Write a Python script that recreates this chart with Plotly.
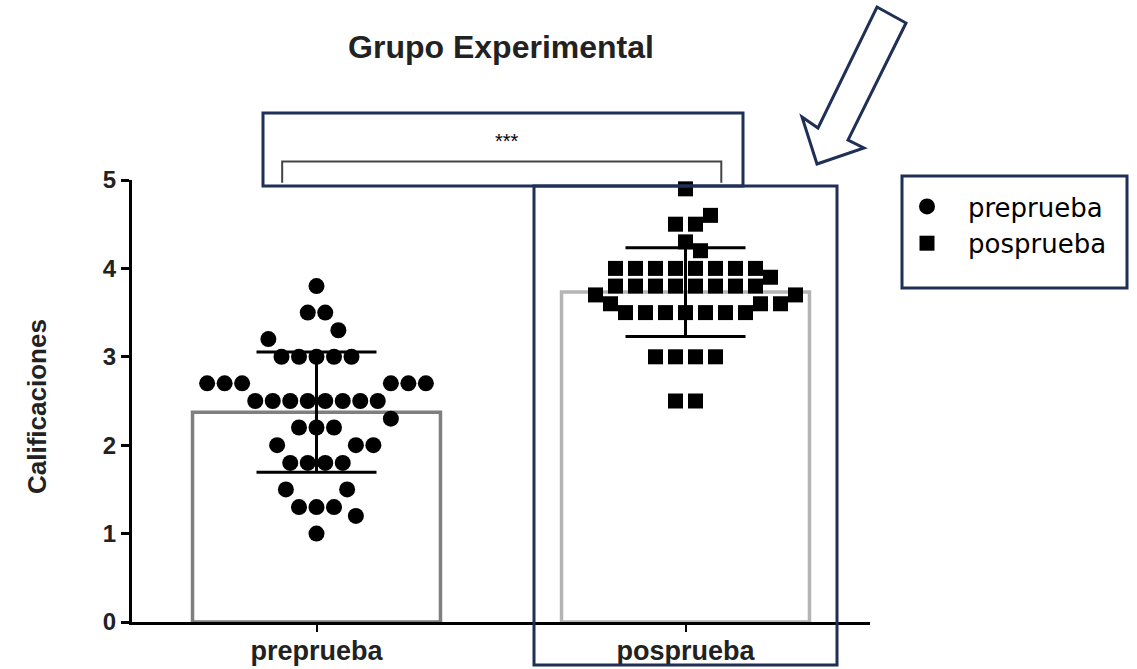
import numpy as np
import plotly.graph_objects as go

# ---------------- data ----------------
categories = ["preprueba", "posprueba"]

preprueba = [3.8, 3.5, 3.5, 3.3, 3.2,
             3.0, 3.0, 3.0, 3.0, 3.0,
             2.7, 2.7, 2.7, 2.7, 2.7, 2.7,
             2.5, 2.5, 2.5, 2.5, 2.5, 2.5, 2.5, 2.5,
             2.3, 2.2, 2.2, 2.2,
             2.0, 2.0, 2.0,
             1.8, 1.8, 1.8, 1.8,
             1.5, 1.5,
             1.3, 1.3, 1.3, 1.2, 1.0]

posprueba = [4.9, 4.6, 4.5, 4.5, 4.3, 4.2,
             4.0, 4.0, 4.0, 4.0, 4.0, 4.0, 4.0, 4.0,
             3.9,
             3.8, 3.8, 3.8, 3.8, 3.8, 3.8, 3.8, 3.8,
             3.7, 3.7, 3.6, 3.6, 3.6,
             3.5, 3.5, 3.5, 3.5, 3.5, 3.5, 3.5,
             3.0, 3.0, 3.0, 3.0,
             2.5, 2.5]

y_ticks = [0, 1, 2, 3, 4, 5]
significance = "***"
title_text = "Grupo Experimental"
y_title = "Calificaciones"

groups = [preprueba, posprueba]
means = [float(np.mean(g)) for g in groups]
sds = [float(np.std(g, ddof=1)) for g in groups]

# ---------------- geometry ----------------
W, H = 1137, 669
X0, X1, Y0, Y1 = 132, 870, 622, 180      # plot area in px
XR = (-0.5, 1.5)
YR = (0, 5)
PX_X = (X1 - X0) / (XR[1] - XR[0])
PX_Y = (Y0 - Y1) / (YR[1] - YR[0])


def pxx(px):
    return (px - X0) / (X1 - X0)


def pxy(py):
    return (Y0 - py) / (Y0 - Y1)


def dx2p(x):
    return (x - XR[0]) / (XR[1] - XR[0])


def dy2p(y):
    return (y - YR[0]) / (YR[1] - YR[0])


def swarm(values, s, dcol):
    """Beeswarm layout: rows of equal value spaced by s px, other rows avoid
    each other within a circle of dcol px. Returns x offsets (data units)."""
    vals = np.asarray(values, float)
    uniq, counts = np.unique(vals, return_counts=True)
    order = sorted(range(len(uniq)), key=lambda i: (-counts[i], -uniq[i]))
    placed = []
    offs = {}
    for i in order:
        v, n = uniq[i], int(counts[i])
        ypx = v * PX_Y

        def free(x):
            for (qx, qy) in placed:
                dy = abs(qy - ypx)
                if dy < 1e-6:
                    if abs(x - qx) < s - 1e-6:
                        return False
                elif dy < dcol and (x - qx) ** 2 + dy ** 2 < dcol * dcol - 1e-6:
                    return False
            return True

        block = [(k - (n - 1) / 2) * s for k in range(n)]
        if all(free(x) for x in block):
            xs = block
            for x in xs:
                placed.append((x, ypx))
        else:
            xs = []
            cands = sorted({sg * h * s / 8 for h in range(0, 200) for sg in (1, -1)}, key=abs)
            near = [qx for (qx, qy) in placed if abs(qy - ypx) < dcol]
            bias = np.mean(near) if near else 0.0
            for k in range(n):
                left = sum(1 for x in xs if x < 0)
                right = sum(1 for x in xs if x > 0)
                best = None
                for c in cands:
                    if free(c):
                        best = c
                        if c != 0 and free(-c):
                            if right != left:
                                best = abs(c) if right < left else -abs(c)
                            else:
                                best = -abs(c) if bias > 0 else abs(c)
                        break
                xs.append(best)
                placed.append((best, ypx))
        offs[v] = list(xs)
    out = []
    for v in vals:
        out.append(offs[v].pop(0) / PX_X)
    return out


pre_off = swarm(preprueba, 17.5, 22)
pos_off = swarm(posprueba, 20, 17)

NAVY = "#1f2f55"
FONT = "Liberation Sans, Arial, sans-serif"

fig = go.Figure()

fig.add_trace(go.Bar(
    x=[0, 1], y=means, width=0.672,
    marker=dict(color="white", line=dict(color=["#7f7f7f", "#b4b4b4"], width=3.5)),
    showlegend=False, hoverinfo="skip"))

fig.add_trace(go.Scatter(
    x=[0 + o for o in pre_off], y=preprueba, mode="markers", name=categories[0],
    marker=dict(symbol="circle", size=16, color="black", line=dict(width=0))))

fig.add_trace(go.Scatter(
    x=[1 + o for o in pos_off], y=posprueba, mode="markers", name=categories[1],
    marker=dict(symbol="square", size=15, color="black", line=dict(width=0))))

fig.add_trace(go.Scatter(
    x=[0, 1], y=means, mode="markers", marker=dict(size=1, opacity=0),
    error_y=dict(type="data", array=sds, color="black", thickness=3, width=60),
    showlegend=False, hoverinfo="skip"))

shapes = []
# significance bracket
bx0, bx1, by_top, by_leg = -0.093, 1.097, 5.21, 4.97
shapes.append(dict(type="path", xref="paper", yref="paper",
                   path=f"M{dx2p(bx0)},{dy2p(by_leg)} L{dx2p(bx0)},{dy2p(by_top)} "
                        f"L{dx2p(bx1)},{dy2p(by_top)} L{dx2p(bx1)},{dy2p(by_leg)}",
                   line=dict(color="#444444", width=2)))
# navy highlight boxes
for (a, b, c, d) in [(263, 113, 743, 186), (534, 186, 837, 665), (902, 176, 1127, 288)]:
    shapes.append(dict(type="rect", xref="paper", yref="paper",
                       x0=pxx(a), x1=pxx(c), y0=pxy(b), y1=pxy(d),
                       line=dict(color=NAVY, width=3), fillcolor="rgba(0,0,0,0)"))
# arrow
arrow_pts = [(877, 7), (906, 23), (848, 140), (864, 148), (817, 164), (802, 117), (818, 128)]
path = "M" + " L".join(f"{pxx(a)},{pxy(b)}" for a, b in arrow_pts) + " Z"
shapes.append(dict(type="path", xref="paper", yref="paper", path=path,
                   line=dict(color=NAVY, width=3), fillcolor="rgba(0,0,0,0)"))

annotations = [
    dict(text=significance, xref="paper", yref="paper", x=pxx(507), y=pxy(141),
         xanchor="center", yanchor="middle",
         showarrow=False, font=dict(family=FONT, size=20, color="black")),
    dict(text=y_title, xref="paper", yref="paper", x=pxx(37), y=pxy(407),
         xanchor="center", yanchor="middle",
         showarrow=False, textangle=-90,
         font=dict(family=FONT, size=26, color="#222222", weight="bold")),
]

fig.update_layout(
    width=W, height=H, autosize=False,
    margin=dict(l=X0, r=W - X1, t=Y1, b=H - Y0, pad=0, autoexpand=False),
    plot_bgcolor="white", paper_bgcolor="white",
    title=dict(text=title_text, x=0.5, xref="paper", xanchor="center",
               y=1 - 47 / H, yref="container", yanchor="middle",
               font=dict(family=FONT, size=32, color="#222222", weight="bold")),
    xaxis=dict(range=list(XR), tickvals=[0, 1], ticktext=categories,
               automargin=False, ticklabelstandoff=-4,
               showline=True, linewidth=3, linecolor="black",
               ticks="outside", ticklen=7, tickwidth=2, tickcolor="black",
               showgrid=False, zeroline=False,
               tickfont=dict(family=FONT, size=27, color="#222222", weight="bold")),
    yaxis=dict(range=list(YR), tickvals=y_ticks, automargin=False,
               showline=True, linewidth=3, linecolor="black",
               ticks="outside", ticklen=8, tickwidth=3, tickcolor="black",
               showgrid=False, zeroline=False,
               tickfont=dict(family=FONT, size=24, color="#222222", weight="bold")),
    legend=dict(x=pxx(886), y=pxy(183), xanchor="left", yanchor="top",
                xref="paper", yref="paper",
                bgcolor="rgba(0,0,0,0)", borderwidth=0, itemwidth=72,
                tracegroupgap=0,
                font=dict(family="DejaVu Sans", size=26, color="black")),
    shapes=shapes, annotations=annotations,
)

fig.write_html("out.html", post_script="document.body.style.margin='0';",
               config={"displayModeBar": False})
